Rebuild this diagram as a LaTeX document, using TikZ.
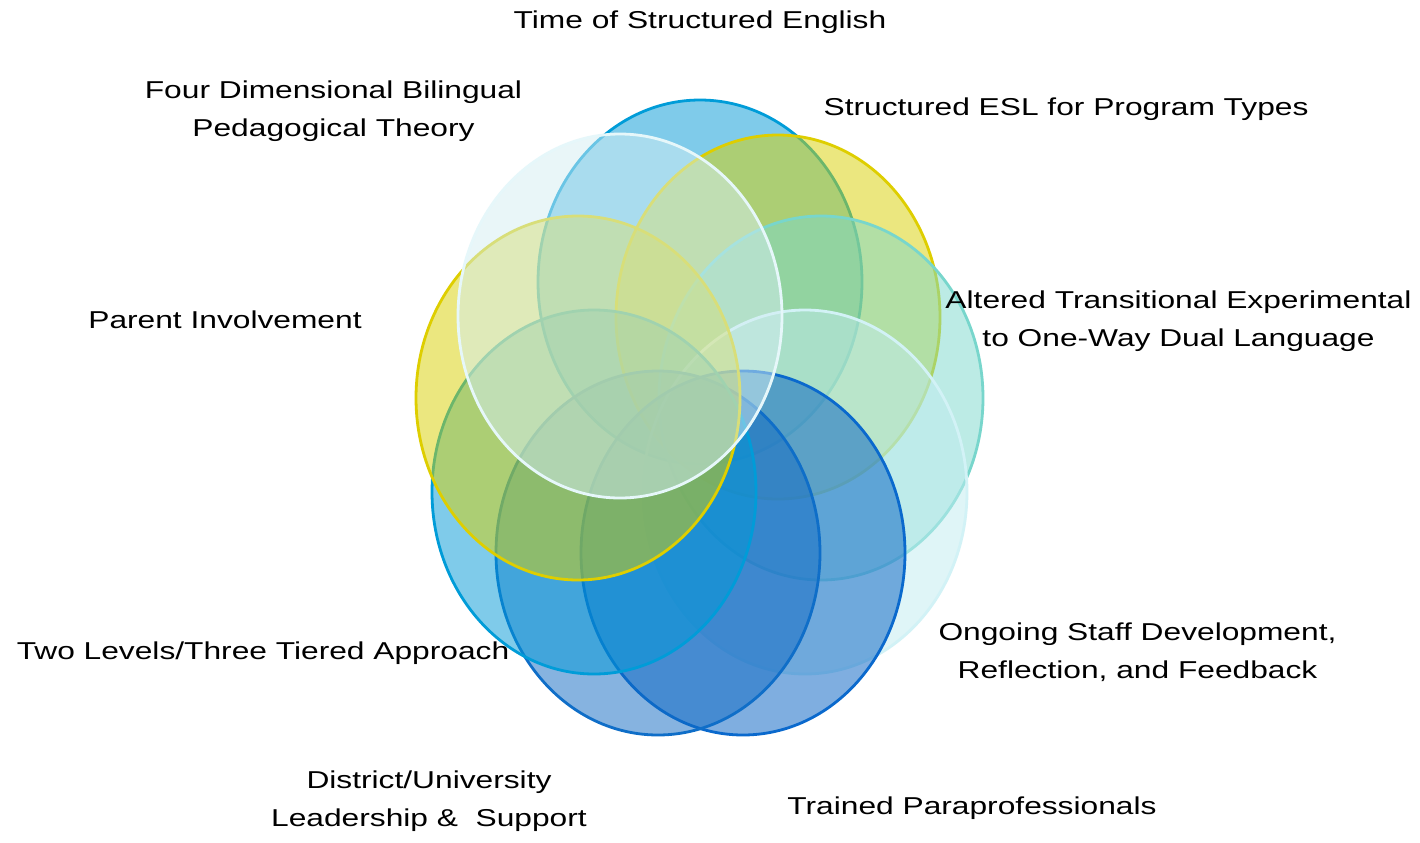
\documentclass[tikz,border=0pt]{standalone}
\usepackage{fontspec}
\setmainfont{Liberation Sans}
\usetikzlibrary{shapes.geometric}
\definecolor{cTime}{RGB}{0,152,215}
\definecolor{cTimeB}{RGB}{0,156,216}
\definecolor{cYel}{RGB}{217,209,0}
\definecolor{cYelB}{RGB}{222,206,0}
\definecolor{cTeal}{RGB}{122,216,204}
\definecolor{cTealB}{RGB}{120,214,204}
\definecolor{cPale}{RGB}{192,236,240}
\definecolor{cPaleB}{RGB}{210,242,246}
\definecolor{cBlue}{RGB}{0,95,195}
\definecolor{cBlueB}{RGB}{10,105,205}
\definecolor{cBlue2}{RGB}{15,105,195}
\definecolor{cBlue2B}{RGB}{15,110,200}
\definecolor{cWhite}{RGB}{212,238,243}
\definecolor{cWhiteB}{RGB}{230,247,250}
\newcommand{\twol}[2]{\begin{tabular}[t]{@{}c@{}}#1\\#2\end{tabular}}
\begin{document}
\begin{tikzpicture}[x=0.5pt,y=-0.5pt,
  lbl/.style={font=\fontsize{12.2}{19}\selectfont, inner sep=0pt, xscale=1.3, anchor=base, text=black},
  ring/.style={ellipse, minimum width=162pt, minimum height=182pt, inner sep=0pt,
               line width=1.4pt, fill opacity=0.5, draw opacity=1}]
\useasboundingbox (0,0) rectangle (1420,842);
\fill[white] (0,0) rectangle (1420,842);

% overlapping ellipses, drawn clockwise from the top
\node[ring, draw=cTimeB,  fill=cTime]  (eTime)   at (700,282) {};
\node[ring, draw=cYelB,   fill=cYel]   (eESL)    at (778,317) {};
\node[ring, draw=cTealB,  fill=cTeal]  (eAlt)    at (821,398) {};
\node[ring, draw=cPaleB,  fill=cPale]  (eOng)    at (805,492) {};
\node[ring, draw=cBlueB,  fill=cBlue]  (eTrain)  at (743,553) {};
\node[ring, draw=cBlue2B, fill=cBlue2] (eDist)   at (658,553) {};
\node[ring, draw=cTimeB,  fill=cTime]  (eTwo)    at (594,492) {};
\node[ring, draw=cYelB,   fill=cYel]   (ePar)    at (578,398) {};
\node[ring, draw=cWhiteB, fill=cWhite] (eFour)   at (620,316) {};

% labels
\node[lbl] (tTime)  at (700,28)    {Time of Structured English};
\node[lbl] (tFour)  at (333.5,98) {\twol{Four Dimensional Bilingual}{Pedagogical Theory}};
\node[lbl] (tESL)   at (1066,115) {Structured ESL for Program Types};
\node[lbl] (tPar)   at (225,328) {Parent Involvement};
\node[lbl] (tAlt)   at (1178.5,308.5) {\twol{Altered Transitional Experimental\hspace{0.278em}}{to One-Way Dual Language}};
\node[lbl] (tOng)   at (1137.5,640) {\twol{Ongoing Staff Development,\hspace{0.278em}}{Reflection, and Feedback}};
\node[lbl] (tTwo)   at (263,659) {Two Levels/Three Tiered Approach};
\node[lbl] (tDist)  at (429,788) {\twol{District/University\hspace{0.278em}}{Leadership \&\ \ Support}};
\node[lbl] (tTrain) at (972,814) {Trained Paraprofessionals};
\end{tikzpicture}
\end{document}
